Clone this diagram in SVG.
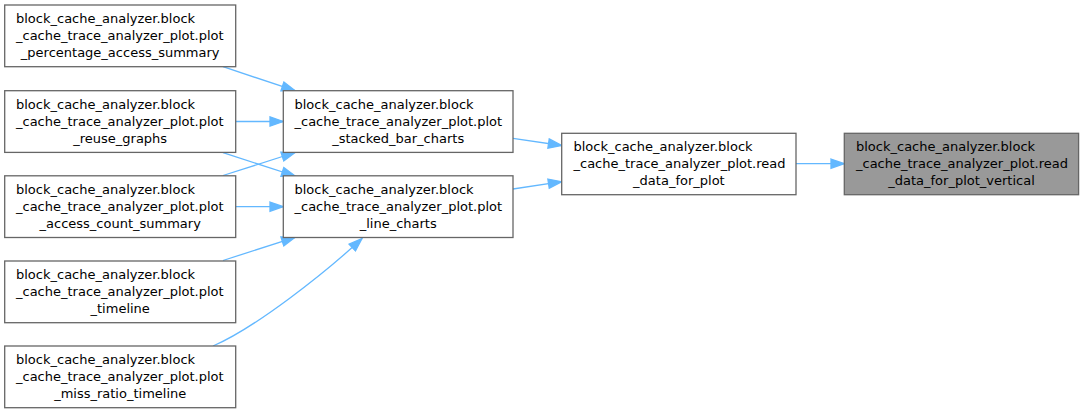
<svg xmlns="http://www.w3.org/2000/svg" width="1084" height="414" viewBox="0 0 1084 414">
<style>
.node rect{fill:#ffffff;stroke:#666666;stroke-width:1.3}
.node.hl rect{fill:#999999}
text{font-family:"DejaVu Sans","Liberation Sans",sans-serif;font-size:13px;fill:#000000}
.c{text-anchor:middle}
.edges path{fill:none;stroke:#63b8ff;stroke-width:1.3}
</style>
<defs>
<marker id="ah" markerUnits="userSpaceOnUse" markerWidth="16" markerHeight="12" refX="13.3" refY="4.67" orient="auto" viewBox="-1 -1 16 12">
<path d="M0,0 L13.3,4.67 L0,9.33 Z" fill="#63b8ff" stroke="#63b8ff" stroke-width="1.3"/>
</marker>
</defs>
<rect width="1084" height="414" fill="#ffffff"/>
<g class="edges">
<path d="M223,66.7 L295,90.7" marker-end="url(#ah)"/>
<path d="M235.7,121.5 L283.3,121.5" marker-end="url(#ah)"/>
<path d="M223,152.7 L295,176" marker-end="url(#ah)"/>
<path d="M223,175.5 L295,152.5" marker-end="url(#ah)"/>
<path d="M235.7,206.7 L283.3,206.7" marker-end="url(#ah)"/>
<path d="M223,260.5 L295,237.3" marker-end="url(#ah)"/>
<path d="M213,346 C255,328 325,273 362,238.5" marker-end="url(#ah)"/>
<path d="M513,138.3 L561.7,145.5" marker-end="url(#ah)"/>
<path d="M513,189 L561.7,181.7" marker-end="url(#ah)"/>
<path d="M796,163.7 L844.3,163.7" marker-end="url(#ah)"/>
</g>
<g id="n1" class="node">
<rect x="4.7" y="5" width="231" height="61.7"/>
<text x="16" y="23">block_cache_analyzer.block</text>
<text x="16" y="40">_cache_trace_analyzer_plot.plot</text>
<text class="c" x="120.2" y="57">_percentage_access_summary</text>
</g>
<g id="n2" class="node">
<rect x="4.7" y="90.7" width="231" height="61.7"/>
<text x="16" y="108.7">block_cache_analyzer.block</text>
<text x="16" y="125.7">_cache_trace_analyzer_plot.plot</text>
<text class="c" x="120.2" y="142.7">_reuse_graphs</text>
</g>
<g id="n3" class="node">
<rect x="4.7" y="175.8" width="231" height="61.7"/>
<text x="16" y="193.8">block_cache_analyzer.block</text>
<text x="16" y="210.8">_cache_trace_analyzer_plot.plot</text>
<text class="c" x="120.2" y="227.8">_access_count_summary</text>
</g>
<g id="n4" class="node">
<rect x="4.7" y="261" width="231" height="61.7"/>
<text x="16" y="279">block_cache_analyzer.block</text>
<text x="16" y="296">_cache_trace_analyzer_plot.plot</text>
<text class="c" x="120.2" y="313">_timeline</text>
</g>
<g id="n5" class="node">
<rect x="4.7" y="346" width="231" height="61.7"/>
<text x="16" y="364">block_cache_analyzer.block</text>
<text x="16" y="381">_cache_trace_analyzer_plot.plot</text>
<text class="c" x="120.2" y="398">_miss_ratio_timeline</text>
</g>
<g id="n6" class="node">
<rect x="283.3" y="90.7" width="229.7" height="61.7"/>
<text x="294.5" y="108.7">block_cache_analyzer.block</text>
<text x="294.5" y="125.7">_cache_trace_analyzer_plot.plot</text>
<text class="c" x="398.2" y="142.7">_stacked_bar_charts</text>
</g>
<g id="n7" class="node">
<rect x="283.3" y="175.8" width="229.7" height="61.7"/>
<text x="294.5" y="193.8">block_cache_analyzer.block</text>
<text x="294.5" y="210.8">_cache_trace_analyzer_plot.plot</text>
<text class="c" x="398.2" y="227.8">_line_charts</text>
</g>
<g id="n8" class="node">
<rect x="561.7" y="133.3" width="234.3" height="61.4"/>
<text x="573.5" y="151.2">block_cache_analyzer.block</text>
<text x="573.5" y="168.2">_cache_trace_analyzer_plot.read</text>
<text class="c" x="678.9" y="185.2">_data_for_plot</text>
</g>
<g id="n9" class="node hl">
<rect x="844.3" y="133.3" width="234.3" height="61.4"/>
<text x="856" y="151.2">block_cache_analyzer.block</text>
<text x="856" y="168.2">_cache_trace_analyzer_plot.read</text>
<text class="c" x="961.5" y="185.2">_data_for_plot_vertical</text>
</g>
</svg>
